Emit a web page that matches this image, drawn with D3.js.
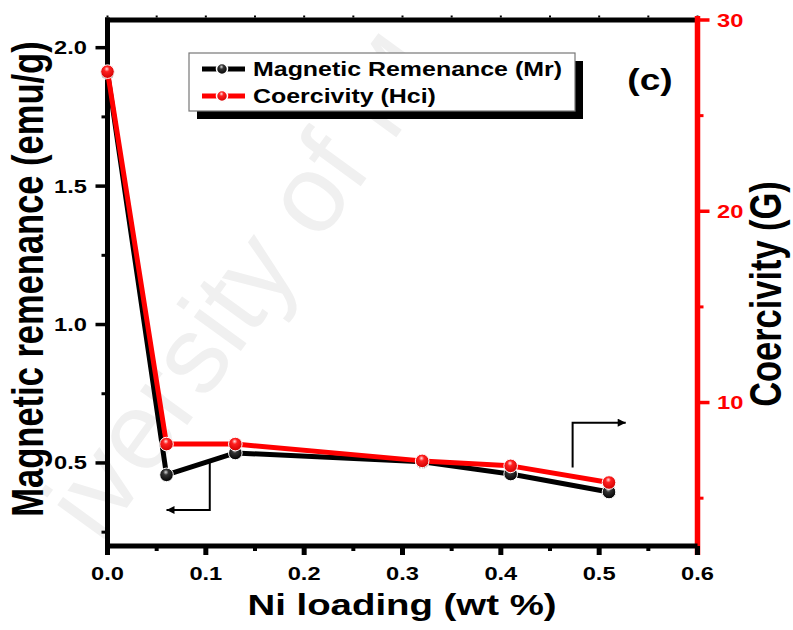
<!DOCTYPE html>
<html>
<head>
<meta charset="utf-8">
<script src="https://cdn.jsdelivr.net/npm/d3@7"></script>
<style>
  html, body { margin: 0; padding: 0; background: #fff; }
  svg { display: block; }
  text { font-family: "Liberation Sans", Arial, sans-serif; font-weight: bold; }
</style>
</head>
<body>
<svg id="chart" width="793" height="630"></svg>
<script>
// ---- data ----
const loading = [0, 0.06, 0.13, 0.32, 0.41, 0.51];
const remanence = [1.91, 0.457, 0.536, 0.504, 0.46, 0.395];
const coercivity = [27.3, 7.83, 7.83, 6.95, 6.69, 5.82];
const xTicks = [0, 0.1, 0.2, 0.3, 0.4, 0.5, 0.6];
const xMinor = [0.05, 0.15, 0.25, 0.35, 0.45, 0.55];
const leftTicks = [0.5, 1.0, 1.5, 2.0];
const leftMinor = [0.25, 0.75, 1.25, 1.75];
const rightTicks = [10, 20, 30];
const rightMinor = [5, 15, 25];
const seriesNames = ["Magnetic Remenance (Mr)", "Coercivity (Hci)"];
const seriesColors = ["#000000", "#ff0000"];
const xTitle = "Ni loading (wt %)";
const leftTitle = "Magnetic remenance (emu/g)";
const rightTitle = "Coercivity (G)";
const panelLabel = "(c)";
const watermark = "iversity of M";

// ---- layout ----
const svg = d3.select("#chart");
const L = 107.5, R = 697.5, T = 20, B = 546;
const SX = 1.28; // horizontal stretch of text in the reference

const x = d3.scaleLinear().domain([0, 0.6]).range([L, R]);
const yL = d3.scaleLinear().domain([0.2, 2.1]).range([B, T]);
const yR = d3.scaleLinear().domain([2.5, 30]).range([B, T]);

function stext(g, px, py, str, size, opts = {}) {
  const t = g.append("text")
    .attr("transform", `translate(${px},${py}) scale(${SX},1)` + (opts.rotate ? ` rotate(${opts.rotate})` : ""))
    .attr("font-size", size)
    .attr("text-anchor", opts.anchor || "start")
    .attr("fill", opts.fill || "#000")
    .text(str);
  return t;
}

// faint watermark (only the fragment visible in the reference)
svg.append("text")
  .attr("transform", "translate(100,545) rotate(-54)")
  .attr("font-family", "Lato, 'Open Sans', sans-serif")
  .attr("font-size", 110)
  .attr("fill", "#f0f0f0")
  .style("font-weight", 300)
  .text(watermark);

// gradients
const defs = svg.append("defs");
function grad(id, light, mid, dark) {
  const g = defs.append("radialGradient").attr("id", id)
    .attr("cx", "45%").attr("cy", "35%").attr("r", "65%").attr("fx", "45%").attr("fy", "30%");
  g.append("stop").attr("offset", "0%").attr("stop-color", light);
  g.append("stop").attr("offset", "30%").attr("stop-color", mid);
  g.append("stop").attr("offset", "100%").attr("stop-color", dark);
}
grad("gBlack", "#d8d8d8", "#333", "#000");
grad("gRed", "#ffe0e0", "#ff2020", "#d00000");
const gradIds = ["url(#gBlack)", "url(#gRed)"];

// ---- axes ----
const ax = svg.append("g");
// top axis
ax.append("line").attr("x1", L - 2.5).attr("x2", R).attr("y1", T).attr("y2", T)
  .attr("stroke", "#000").attr("stroke-width", 5);
ax.selectAll(".topminor").data(xTicks.concat(xMinor)).join("line")
  .attr("x1", d => x(d)).attr("x2", d => x(d)).attr("y1", T - 2.5).attr("y2", T - 4.5)
  .attr("stroke", "#000").attr("stroke-width", 2);

// left axis
ax.append("line").attr("x1", L).attr("x2", L).attr("y1", T - 2.5).attr("y2", B + 9)
  .attr("stroke", "#000").attr("stroke-width", 5);
ax.selectAll(".lmaj").data(leftTicks).join("line")
  .attr("x1", L - 12).attr("x2", L).attr("y1", d => yL(d)).attr("y2", d => yL(d))
  .attr("stroke", "#000").attr("stroke-width", 3.5);
ax.selectAll(".lmin").data(leftMinor).join("line")
  .attr("x1", L - 6).attr("x2", L).attr("y1", d => yL(d)).attr("y2", d => yL(d))
  .attr("stroke", "#000").attr("stroke-width", 3);
leftTicks.forEach(d => stext(ax, 87, yL(d) + 6.5, d.toFixed(1), 18.5, { anchor: "end" }));

// right axis
ax.append("line").attr("x1", R).attr("x2", R).attr("y1", T - 4).attr("y2", B + 9)
  .attr("stroke", "#ff0000").attr("stroke-width", 5.5);
ax.selectAll(".rmaj").data(rightTicks).join("line")
  .attr("x1", R).attr("x2", R + 12).attr("y1", d => yR(d)).attr("y2", d => yR(d))
  .attr("stroke", "#ff0000").attr("stroke-width", 3.5);
ax.selectAll(".rmin").data(rightMinor).join("line")
  .attr("x1", R).attr("x2", R + 6).attr("y1", d => yR(d)).attr("y2", d => yR(d))
  .attr("stroke", "#ff0000").attr("stroke-width", 3);
rightTicks.forEach(d => stext(ax, 717, yR(d) + 6.5, String(d), 18.5, { fill: "#ff0000" }));

// bottom axis
ax.append("line").attr("x1", L - 2.5).attr("x2", R).attr("y1", B).attr("y2", B)
  .attr("stroke", "#000").attr("stroke-width", 5);
ax.selectAll(".bmaj").data(xTicks).join("line")
  .attr("x1", d => x(d)).attr("x2", d => x(d)).attr("y1", B).attr("y2", B + 9)
  .attr("stroke", "#000").attr("stroke-width", 5);
ax.selectAll(".bmin").data(xMinor).join("line")
  .attr("x1", d => x(d)).attr("x2", d => x(d)).attr("y1", B).attr("y2", B + 5)
  .attr("stroke", "#000").attr("stroke-width", 4);
xTicks.forEach(d => stext(ax, x(d), 580, d.toFixed(1), 18.5, { anchor: "middle" }));

// titles
stext(svg, 402, 615, xTitle, 30, { anchor: "middle" });
stext(svg, 43, 279, leftTitle, 34.5, { anchor: "middle", rotate: -90 });
stext(svg, 781, 294, rightTitle, 34.4, { anchor: "middle", rotate: -90 });
stext(svg, 650, 90, panelLabel, 29, { anchor: "middle" });

// ---- series ----
const rows = loading.map((d, i) => ({ x: d, mr: remanence[i], hc: coercivity[i] }));
const lineMr = d3.line().x(d => x(d.x)).y(d => yL(d.mr));
const lineHc = d3.line().x(d => x(d.x)).y(d => yR(d.hc));
const plot = svg.append("g");
plot.append("path").datum(rows).attr("d", lineMr).attr("fill", "none")
  .attr("stroke", seriesColors[0]).attr("stroke-width", 5).attr("stroke-linejoin", "round");
plot.selectAll(".mrpt").data(rows).join("circle")
  .attr("cx", d => x(d.x)).attr("cy", d => yL(d.mr)).attr("r", 6.8)
  .attr("fill", gradIds[0]).attr("stroke", "#fff").attr("stroke-width", 1);
plot.append("path").datum(rows).attr("d", lineHc).attr("fill", "none")
  .attr("stroke", seriesColors[1]).attr("stroke-width", 5).attr("stroke-linejoin", "round");
plot.selectAll(".hcpt").data(rows).join("circle")
  .attr("cx", d => x(d.x)).attr("cy", d => yR(d.hc)).attr("r", 6.8)
  .attr("fill", gradIds[1]).attr("stroke", "#fff").attr("stroke-width", 1);

// ---- arrows (pointing to each series' axis) ----
defs.append("marker").attr("id", "ah").attr("viewBox", "0 0 10 10")
  .attr("refX", 10).attr("refY", 5).attr("markerWidth", 6).attr("markerHeight", 4)
  .attr("markerUnits", "strokeWidth").attr("orient", "auto")
  .append("path").attr("d", "M0,0 L10,5 L0,10 Z").attr("fill", "#000");
const la = { x0: 0.104, v0: 0.5, v1: 0.33, x1: 0.06 };
plot.append("path")
  .attr("d", `M${x(la.x0)},${yL(la.v0)} L${x(la.x0)},${yL(la.v1)} L${x(la.x1)},${yL(la.v1)}`)
  .attr("fill", "none").attr("stroke", "#000").attr("stroke-width", 2).attr("marker-end", "url(#ah)");
const ra = { x0: 0.473, v0: 6.6, v1: 8.95, x1: 0.527 };
plot.append("path")
  .attr("d", `M${x(ra.x0)},${yR(ra.v0)} L${x(ra.x0)},${yR(ra.v1)} L${x(ra.x1)},${yR(ra.v1)}`)
  .attr("fill", "none").attr("stroke", "#000").attr("stroke-width", 2).attr("marker-end", "url(#ah)");

// ---- legend ----
const lg = svg.append("g");
lg.append("rect").attr("x", 197).attr("y", 61).attr("width", 386).attr("height", 58).attr("fill", "#000");
lg.append("rect").attr("x", 189).attr("y", 53).attr("width", 386).attr("height", 58)
  .attr("fill", "#fff").attr("stroke", "#777").attr("stroke-width", 1.2);
const legY = [69, 96];
seriesNames.forEach((name, i) => {
  lg.append("line").attr("x1", 202).attr("x2", 245).attr("y1", legY[i]).attr("y2", legY[i])
    .attr("stroke", seriesColors[i]).attr("stroke-width", 5);
  lg.append("circle").attr("cx", 222).attr("cy", legY[i]).attr("r", 5.5)
    .attr("fill", gradIds[i]).attr("stroke", "#fff").attr("stroke-width", 1.5);
  stext(lg, 253, legY[i] + 7, name, 19.5);
});
</script>
</body>
</html>
